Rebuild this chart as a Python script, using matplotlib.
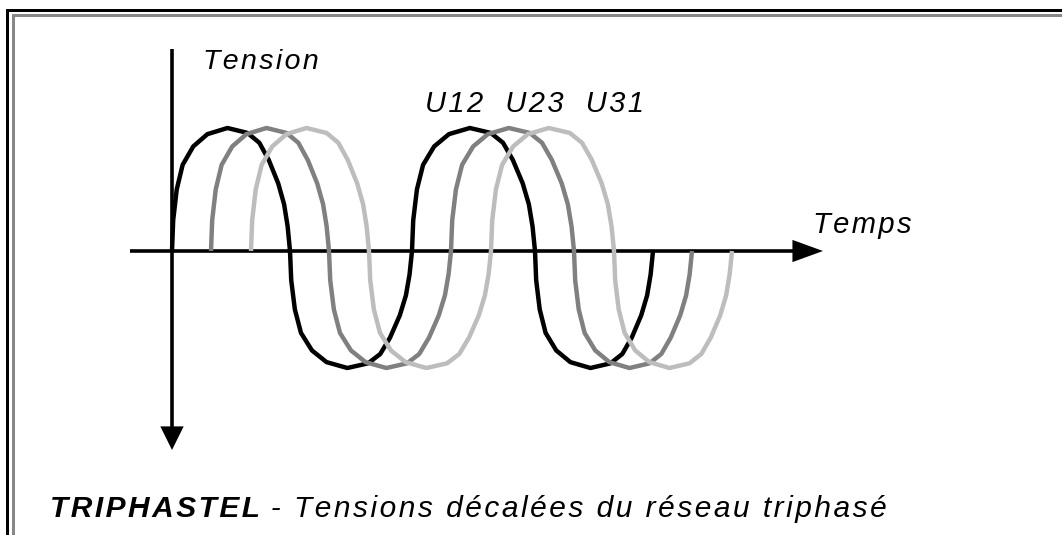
import matplotlib
matplotlib.use("Agg")
import matplotlib.pyplot as plt
from matplotlib.patches import Rectangle

# ── DONNEES ─────────────────────────────────────────────────────
# profil d'une demi-alternance : fraction de la demi-période -> fraction de l'amplitude
profil_t = [0.0, 0.01, 0.04, 0.09, 0.18, 0.30, 0.47, 0.64, 0.74, 0.82, 0.90, 0.95, 0.98, 1.0]
profil_u = [0.0, 0.25, 0.50, 0.70, 0.85, 0.95, 1.00, 0.96, 0.88, 0.74, 0.55, 0.38, 0.20, 0.0]

# passages à zéro de U12 (unités du temps) et amplitude de chaque alternance
passages_zero = [0, 118, 240, 363, 481]
amplitudes = [123, -117, 123, -117]

phases = ["U12", "U23", "U31"]
decalages = [0, 39, 79]
couleurs = ["#000000", "#808080", "#bdbdbd"]

titre_gras = "TRIPHASTEL"
titre_suite = " - Tensions décalées du réseau triphasé"

# ── FIGURE ──────────────────────────────────────────────────────
W, H = 1062, 535
X0, Y0 = 172, 251          # origine des axes dans l'image (pixels)

fig = plt.figure(figsize=(W / 100, H / 100), dpi=100)
ax = fig.add_axes([0, 0, 1, 1])
ax.set_xlim(-X0, W - X0)
ax.set_ylim(Y0 - H, Y0)
ax.axis('off')


def px(x, y):
    """pixel de l'image -> coordonnées des données"""
    return x - X0, Y0 - y


def espace(s):
    # lettres un peu écartées, comme sur l'original
    return "\u200a".join(s)


# cadre (haut et gauche seulement)
for x, y, w, h, c in [(6, 9, W, 3, 'black'), (12, 14, W, 3, '#888888')]:
    ax.add_patch(Rectangle(px(x, y + h), w, h, color=c, lw=0))
    ax.add_patch(Rectangle(px(x, H), h, H - y, color=c, lw=0))

# axes avec flèches
ax.plot(*zip(px(130, Y0), px(800, Y0)), color='black', lw=2.6, solid_capstyle='butt')
ax.annotate('', xy=px(823, Y0), xytext=px(790, Y0),
            arrowprops=dict(arrowstyle='-|>,head_length=1.1,head_width=0.4',
                            mutation_scale=20, color='black', lw=0,
                            shrinkA=0, shrinkB=0))
ax.plot(*zip(px(X0, 49), px(X0, 430)), color='black', lw=2.6, solid_capstyle='butt')
ax.annotate('', xy=px(X0, 450), xytext=px(X0, 425),
            arrowprops=dict(arrowstyle='-|>,head_length=0.85,head_width=0.42',
                            mutation_scale=20, color='black', lw=0,
                            shrinkA=0, shrinkB=0))

# les trois tensions
for nom, dec, col in zip(phases, decalages, couleurs):
    t_all, u_all = [], []
    for k, amp in enumerate(amplitudes):
        t0, t1 = passages_zero[k], passages_zero[k + 1]
        for ft, fu in zip(profil_t, profil_u):
            t_all.append(dec + t0 + ft * (t1 - t0))
            u_all.append(fu * amp)
    ax.plot(t_all, u_all, color=col, lw=3.2, solid_joinstyle='round',
            solid_capstyle='butt', label=nom)

# textes
police = ['Liberation Sans', 'DejaVu Sans']
ax.text(*px(203, 69), espace("Tension"), fontsize=20.5, style='italic',
        family=police, va='baseline', ha='left')
ax.text(*px(425, 112), "  \u2009".join(espace(p) for p in phases), fontsize=21,
        style='italic', family=police, va='baseline', ha='left')
ax.text(*px(813, 233), espace("Temps"), fontsize=21, style='italic',
        family=police, va='baseline', ha='left')

t = ax.text(*px(50, 517), espace(titre_gras), fontsize=21.5, style='italic',
            weight='bold', family=police, va='baseline', ha='left')
fig.canvas.draw()
bb = t.get_window_extent()
ax.annotate(espace(titre_suite), xy=(bb.x1, bb.y0), xycoords='figure pixels',
            xytext=(0, 0), textcoords='offset pixels', fontsize=21.5,
            style='italic', family=police, va='bottom', ha='left')

fig.savefig("out.png", dpi=100, facecolor='white')
